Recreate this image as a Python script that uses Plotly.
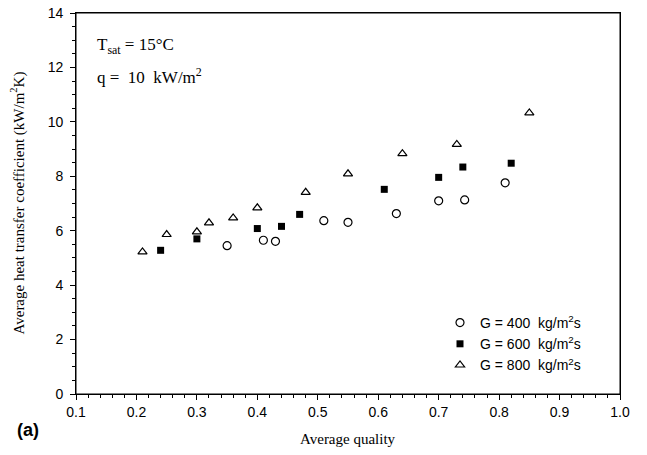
import plotly.graph_objects as go

# G = 400 kg/m2s
q400 = [0.35, 0.41, 0.43, 0.51, 0.55, 0.63, 0.70, 0.743, 0.81]
h400 = [5.45, 5.65, 5.61, 6.37, 6.31, 6.63, 7.10, 7.13, 7.76]
# G = 600 kg/m2s
q600 = [0.24, 0.30, 0.40, 0.44, 0.47, 0.61, 0.70, 0.74, 0.82]
h600 = [5.28, 5.70, 6.08, 6.16, 6.60, 7.52, 7.96, 8.34, 8.48]
# G = 800 kg/m2s
q800 = [0.21, 0.25, 0.30, 0.32, 0.36, 0.40, 0.48, 0.55, 0.64, 0.73, 0.85]
h800 = [5.22, 5.86, 5.96, 6.29, 6.47, 6.84, 7.41, 8.09, 8.83, 9.17, 10.33]

x_ticks = [0.1, 0.2, 0.3, 0.4, 0.5, 0.6, 0.7, 0.8, 0.9, 1.0]
y_ticks = [0, 2, 4, 6, 8, 10, 12, 14]

NB = "\u00a0"
names = [f"G = 400{NB}{NB}kg/m<sup>2</sup>s",
         f"G = 600{NB}{NB}kg/m<sup>2</sup>s",
         f"G = 800{NB}{NB}kg/m<sup>2</sup>s"]

W, H = 647, 455
# plot area in page pixels
PL, PR, PT, PB = 76, 620, 13, 394
L, R, T, B = PL, W - PR, PT, H - PB
PW, PH = W - L - R, H - T - B

def px(xp):
    return (xp - PL) / PW

def py(yp):
    return (PB - yp) / PH

fig = go.Figure()
fig.add_trace(go.Scatter(x=q400, y=h400, mode="markers", name=names[0],
                         marker=dict(symbol="circle-open", size=8, color="black",
                                     line=dict(width=1.2, color="black"))))
fig.add_trace(go.Scatter(x=q600, y=h600, mode="markers", name=names[1],
                         marker=dict(symbol="square", size=7, color="black",
                                     line=dict(width=0))))
fig.add_trace(go.Scatter(x=q800, y=h800, mode="markers", name=names[2],
                         marker=dict(symbol="triangle-up-open", size=8, color="black",
                                     line=dict(width=1.2, color="black"))))

axis_common = dict(showline=True, linecolor="black", linewidth=1, mirror=True,
                   ticks="outside", ticklen=5, tickcolor="black", tickwidth=1,
                   showgrid=False, zeroline=False, automargin=False,
                   ticklabeloverflow="allow",
                   tickfont=dict(family="Liberation Sans, Arial", size=14, color="black"))

fig.update_xaxes(range=[0.1, 1.0], tickvals=x_ticks, ticktext=[f"{v:.1f}" for v in x_ticks],
                 minor=dict(dtick=0.02, tick0=0.1, ticks="outside", ticklen=3, tickcolor="black"),
                 **axis_common)
fig.update_yaxes(range=[0, 14], tickvals=y_ticks, ticktext=[f"{v}{NB}" for v in y_ticks],
                 minor=dict(dtick=0.5, tick0=0, ticks="outside", ticklen=3, tickcolor="black"),
                 **axis_common)

# plot frame (ensures the top border is drawn)
fig.add_shape(type="rect", xref="paper", yref="paper", x0=0, x1=1, y0=0, y1=1,
              line=dict(color="black", width=1), fillcolor="rgba(0,0,0,0)", layer="above")

serif = dict(family="Liberation Serif, Times New Roman", size=17, color="black")
title_font = dict(family="Liberation Serif, Times New Roman", size=15, color="black")

fig.add_annotation(x=0.5, y=py(439), xref="paper", yref="paper", xanchor="center", yanchor="middle",
                   text="Average quality", showarrow=False, font=title_font)
fig.add_annotation(x=px(18), y=0.5, xref="paper", yref="paper", xanchor="center", yanchor="middle",
                   text="Average heat transfer coefficient (kW/m<sup>2</sup>K)", textangle=-90,
                   showarrow=False, font=title_font)
fig.add_annotation(x=px(95), y=py(46), xref="paper", yref="paper", xanchor="left", yanchor="middle",
                   text="T<sub>sat</sub> = 15°C", showarrow=False, font=serif)
fig.add_annotation(x=px(95), y=py(76), xref="paper", yref="paper", xanchor="left", yanchor="middle",
                   text=f"q ={NB}{NB}10{NB}{NB}kW/m<sup>2</sup>", showarrow=False, font=serif)
fig.add_annotation(x=px(15), y=py(430), xref="paper", yref="paper", xanchor="left", yanchor="middle",
                   text="<b>(a)</b>", showarrow=False,
                   font=dict(family="Liberation Sans, Arial", size=18, color="black"))

fig.update_layout(
    width=W, height=H,
    margin=dict(l=L, r=R, t=T, b=B, autoexpand=False),
    paper_bgcolor="white", plot_bgcolor="white",
    showlegend=True,
    legend=dict(x=px(440), y=py(307), xanchor="left", yanchor="top", bgcolor="rgba(0,0,0,0)",
                font=dict(family="Liberation Sans, Arial", size=14, color="black"),
                tracegroupgap=0, itemsizing="trace"),
)

# remove the browser's default page margin so the figure sits at the window's top-left
fig.write_html("out.html", config={"displayModeBar": False},
               post_script="document.body.style.margin='0px';")
